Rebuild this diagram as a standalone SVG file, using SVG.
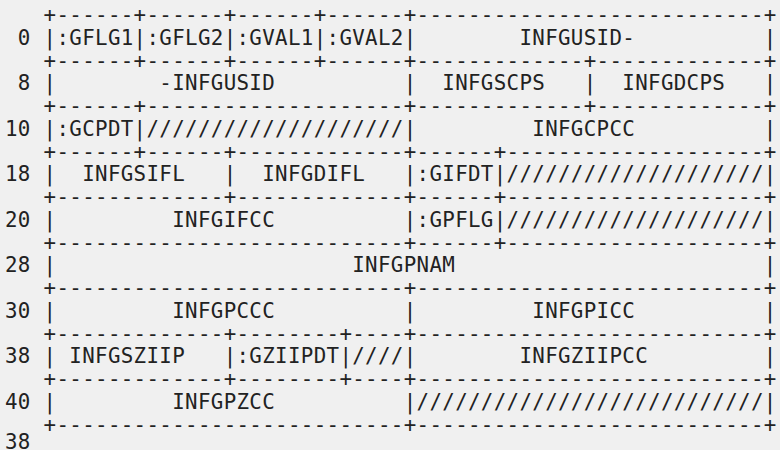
<svg xmlns="http://www.w3.org/2000/svg" width="780" height="450" viewBox="0 0 780 450" xml:space="preserve">
<style>
  .t { font-family: "DejaVu Sans Mono", "Liberation Mono", monospace; font-size: 20.8px; letter-spacing: 0.34px; fill: #222222; white-space: pre; }
</style>
<rect x="0" y="0" width="780" height="450" fill="#f0f0f0"/>
<g id="table">
  <g id="border-0"><text class="t" x="5" y="22">   +------+------+------+------+---------------------------+</text></g>
  <g id="row-0"><text class="t" x="5" y="44.75"> 0 |:GFLG1|:GFLG2|:GVAL1|:GVAL2|        INFGUSID-          |</text></g>
  <g id="border-1"><text class="t" x="5" y="67.5">   +------+------+------+------+-------------+-------------+</text></g>
  <g id="row-8"><text class="t" x="5" y="90.25"> 8 |        -INFGUSID          |  INFGSCPS   |  INFGDCPS   |</text></g>
  <g id="border-2"><text class="t" x="5" y="113">   +------+--------------------+-------------+-------------+</text></g>
  <g id="row-10"><text class="t" x="5" y="135.75">10 |:GCPDT|////////////////////|         INFGCPCC          |</text></g>
  <g id="border-3"><text class="t" x="5" y="158.5">   +------+------+-------------+------+--------------------+</text></g>
  <g id="row-18"><text class="t" x="5" y="181.25">18 |  INFGSIFL   |  INFGDIFL   |:GIFDT|////////////////////|</text></g>
  <g id="border-4"><text class="t" x="5" y="204">   +-------------+-------------+------+--------------------+</text></g>
  <g id="row-20"><text class="t" x="5" y="226.75">20 |         INFGIFCC          |:GPFLG|////////////////////|</text></g>
  <g id="border-5"><text class="t" x="5" y="249.5">   +---------------------------+------+--------------------+</text></g>
  <g id="row-28"><text class="t" x="5" y="272.25">28 |                       INFGPNAM                        |</text></g>
  <g id="border-6"><text class="t" x="5" y="295">   +---------------------------+---------------------------+</text></g>
  <g id="row-30"><text class="t" x="5" y="317.75">30 |         INFGPCCC          |         INFGPICC          |</text></g>
  <g id="border-7"><text class="t" x="5" y="340.5">   +-------------+--------+----+---------------------------+</text></g>
  <g id="row-38"><text class="t" x="5" y="363.25">38 | INFGSZIIP   |:GZIIPDT|////|        INFGZIIPCC         |</text></g>
  <g id="border-8"><text class="t" x="5" y="386">   +-------------+--------+----+---------------------------+</text></g>
  <g id="row-40"><text class="t" x="5" y="408.75">40 |         INFGPZCC          |///////////////////////////|</text></g>
  <g id="border-9"><text class="t" x="5" y="431.5">   +---------------------------+---------------------------+</text></g>
  <g id="trailer"><text class="t" x="5" y="449">38</text></g>
</g>
</svg>
